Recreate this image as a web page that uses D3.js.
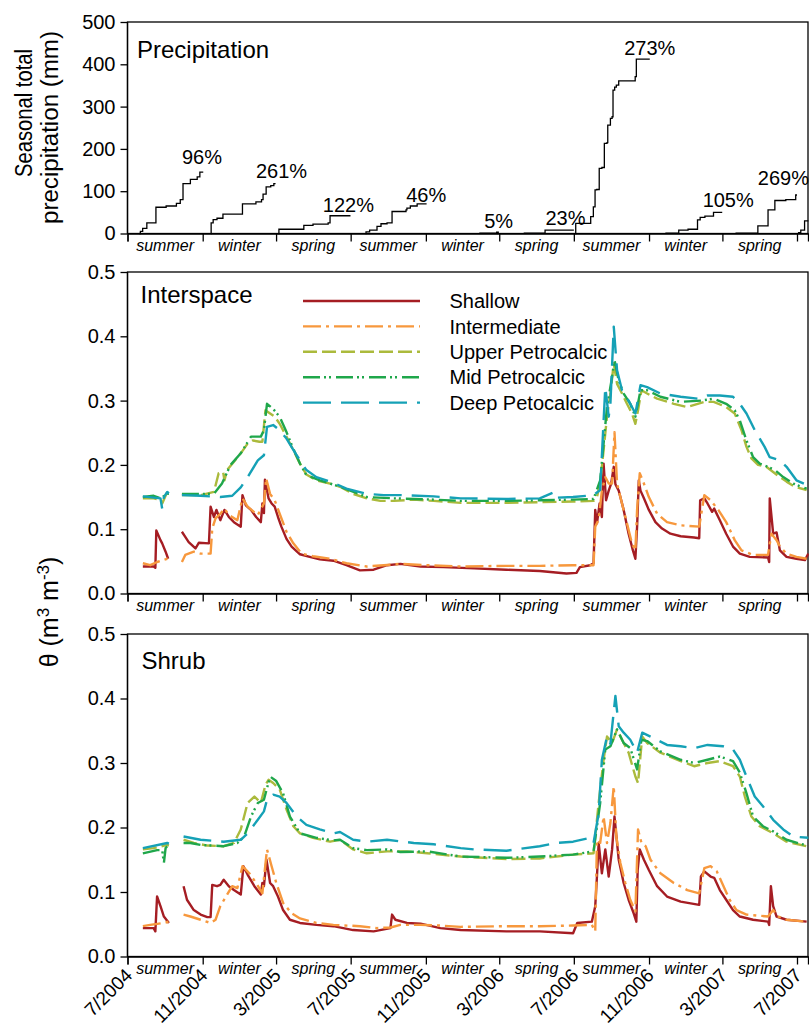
<!DOCTYPE html>
<html><head><meta charset="utf-8">
<script src="https://cdn.jsdelivr.net/npm/d3@7"></script>
<style>body{margin:0;background:#fff} svg{display:block} text{font-family:"Liberation Sans",Arial,Helvetica,sans-serif;fill:#000}</style>
</head><body><svg id="c" width="809" height="1028"></svg>
<script>
// ---------- DATA (x = months since 1 Jul 2004) ----------
const tickLabels = ["7/2004","11/2004","3/2005","7/2005","11/2005","3/2006","7/2006","11/2006","3/2007","7/2007"];
const seasons = ["summer","winter","spring","summer","winter","spring","summer","winter","spring"];
const precipTicks = [0,100,200,300,400,500];
const thetaTicks = [0,0.1,0.2,0.3,0.4,0.5];

// cumulative seasonal precipitation (mm), step curves
const pSummer04 = [[0.62,0],[0.68,5],[0.8,12],[1.02,25],[1.5,62],[2.04,65],[2.6,71],[2.81,80],[2.96,118],[3.35,128],[3.71,134],[3.85,145],[4.03,145]];
const pWinter05 = [[4.45,0],[4.46,25],[4.57,33],[4.78,36],[5.1,46],[6.13,70],[6.84,75],[7.15,80],[7.24,93],[7.42,110],[7.69,113],[7.87,118],[7.97,118]];
const pSpring05 = [[8.12,0],[8.15,10],[9.48,19],[9.98,22],[10.78,25],[10.88,42],[11.99,42]];
const pSummer05 = [[12.78,0],[12.81,4],[13.0,8],[13.39,17],[13.6,23],[13.92,25],[14.19,52],[14.95,56],[15.0,60],[15.18,65],[15.54,70],[16.04,70]];
const pWinter06 = [[18.85,1],[19.85,3],[19.98,3]];
const pSpring06 = [[21.3,1],[22.45,8],[24.0,8]];
const pSummer06 = [[24.09,0],[24.1,24],[24.89,40],[25.03,63],[25.12,103],[25.21,104],[25.34,154],[25.48,156],[25.61,213],[25.75,215],[25.79,256],[25.93,272],[26.02,276],[26.07,339],[26.16,346],[26.25,351],[26.38,361],[27.27,371],[27.33,412],[28.04,412]];
const pWinter07 = [[28.89,1],[29.6,8],[30.09,10],[30.59,32],[30.73,38],[30.98,41],[31.48,50],[31.99,50]];
const pSpring07 = [[32.69,1],[33.9,18],[34.44,56],[34.8,78],[35.39,80],[35.93,91],[36.0,91]];
const pSummer07 = [[36.05,2],[36.2,8],[36.4,30],[36.6,30]];
const precipSeries = [pSummer04,pWinter05,pSpring05,pSummer05,pWinter06,pSpring06,pSummer06,pWinter07,pSpring07,pSummer07];

// percent-of-normal labels: text, position (months, mm)
const pctText  = ["96%","261%","122%","46%","5%","23%","273%","105%","269%"];
const pctMonth = [2.9,6.84,10.5,14.96,19.12,22.47,26.68,30.86,33.9];
const pctMM    = [164,131,51,74,12,20,422,62,115];

// volumetric water content, Interspace
const isShallow = [[0.81,.042],[1.38,.042],[1.47,.040],[1.52,.098],[1.74,.083],[1.83,.078],[2.01,.065],[2.15,.054],null,[2.90,.096],[3.08,.088],[3.26,.080],[3.62,.070],[3.80,.079],[4.34,.078],[4.43,.135],[4.61,.119],[4.75,.130],[4.96,.114],[5.18,.130],[5.41,.119],[5.68,.111],[6.04,.104],[6.13,.153],[6.31,.137],[6.58,.130],[6.85,.119],[7.11,.111],[7.20,.140],[7.29,.125],[7.35,.177],[7.56,.148],[7.74,.140],[7.92,.135],[8.10,.119],[8.28,.104],[8.55,.085],[8.82,.073],[9.27,.061],[9.80,.057],[10.34,.053],[11.06,.051],[11.77,.044],[12.49,.036],[13.21,.037],[13.92,.044],[14.64,.046],[15.72,.042],[16.97,.041],[18.58,.039],[20.38,.037],[22.17,.035],[23.60,.031],[24.14,.032],[24.32,.041],[24.86,.044],[25.04,.047],[25.13,.130],[25.22,.109],[25.36,.140],[25.48,.119],[25.57,.202],[25.70,.145],[25.84,.160],[25.97,.171],[26.11,.197],[26.20,.170],[26.38,.160],[26.65,.130],[26.92,.093],[27.15,.067],[27.28,.054],[27.37,.104],[27.46,.176],[27.55,.160],[27.73,.148],[27.99,.130],[28.35,.111],[28.71,.101],[29.16,.093],[29.70,.089],[30.41,.087],[30.68,.086],[30.73,.145],[30.95,.148],[31.13,.140],[31.40,.127],[31.52,.132],[31.85,.114],[32.20,.093],[32.56,.073],[32.92,.062],[33.46,.057],[34.44,.056],[34.50,.049],[34.53,.148],[34.71,.093],[34.89,.095],[35.07,.067],[35.43,.057],[35.97,.054],[36.42,.052],[36.60,.062]];
const isInter = [[0.81,.047],[1.20,.044],[1.56,.049],[2.10,.054],[2.19,.052],null,[2.90,.049],[3.08,.060],[3.53,.065],[3.89,.062],[4.43,.062],[4.52,.101],[4.70,.117],[4.96,.124],[5.18,.132],[5.41,.122],[5.86,.114],[6.13,.148],[6.40,.135],[6.94,.122],[7.29,.140],[7.42,.179],[7.65,.155],[7.92,.145],[8.19,.124],[8.55,.096],[8.91,.078],[9.36,.062],[9.98,.058],[10.88,.054],[11.77,.047],[12.85,.042],[13.75,.044],[14.64,.046],[16.08,.044],[17.87,.042],[20.38,.043],[22.17,.043],[23.96,.044],[25.04,.044],[25.13,.104],[25.31,.115],[25.48,.160],[25.66,.181],[25.84,.171],[26.02,.171],[26.15,.251],[26.29,.171],[26.56,.140],[26.83,.109],[27.10,.078],[27.28,.067],[27.37,.130],[27.51,.187],[27.73,.171],[27.99,.150],[28.44,.124],[28.98,.111],[29.70,.106],[30.68,.104],[30.95,.153],[31.31,.145],[31.76,.130],[32.20,.111],[32.65,.083],[33.01,.067],[33.64,.060],[34.44,.060],[34.62,.093],[34.89,.083],[35.07,.073],[35.43,.062],[35.97,.057],[36.51,.054]];
const isUpper = [[0.81,.148],[1.38,.148],[1.74,.145],[1.83,.140],[2.10,.158],[2.19,.155],null,[2.90,.153],[3.89,.153],[4.61,.158],[4.87,.187],[5.11,.189],[5.18,.176],[5.32,.192],[5.68,.205],[6.04,.218],[6.40,.233],[6.67,.238],[7.03,.236],[7.20,.236],[7.38,.285],[7.65,.280],[7.92,.275],[8.19,.264],[8.55,.244],[8.91,.223],[9.27,.202],[9.62,.185],[10.16,.176],[10.88,.171],[11.42,.166],[12.13,.155],[12.85,.148],[13.57,.144],[14.28,.144],[15.36,.146],[16.43,.144],[17.87,.141],[20.38,.141],[22.17,.142],[23.96,.143],[25.04,.144],[25.22,.150],[25.39,.171],[25.57,.223],[25.75,.275],[25.93,.311],[26.11,.358],[26.29,.326],[26.56,.311],[26.83,.295],[27.10,.280],[27.28,.264],[27.42,.285],[27.60,.316],[27.90,.311],[28.44,.303],[29.34,.295],[30.05,.290],[30.95,.298],[31.49,.298],[32.20,.290],[32.65,.280],[33.01,.254],[33.28,.228],[33.55,.210],[33.91,.200],[34.35,.197],[34.71,.189],[35.07,.181],[35.43,.174],[35.88,.166],[36.51,.161]];
const isMid = [[0.81,.150],[1.38,.152],[1.74,.148],[2.10,.155],[2.19,.155],null,[2.90,.155],[3.89,.155],[4.61,.155],[5.05,.171],[5.50,.200],[6.04,.218],[6.58,.244],[7.11,.244],[7.29,.254],[7.47,.295],[7.83,.287],[8.19,.275],[8.55,.251],[8.91,.225],[9.27,.202],[9.62,.184],[10.34,.176],[11.42,.166],[12.85,.150],[14.28,.148],[16.43,.146],[17.87,.144],[20.38,.144],[22.17,.145],[23.96,.146],[25.04,.147],[25.39,.176],[25.57,.233],[25.75,.290],[26.02,.337],[26.15,.363],[26.38,.331],[26.65,.311],[27.01,.295],[27.28,.275],[27.55,.316],[27.90,.316],[28.62,.306],[29.70,.298],[30.77,.300],[31.49,.303],[32.20,.295],[32.65,.285],[32.92,.269],[33.28,.238],[33.64,.212],[34.00,.202],[34.44,.197],[34.80,.192],[35.25,.181],[35.79,.171],[36.51,.163]];
const isDeep = [[0.81,.151],[1.74,.148],[1.83,.132],[1.92,.150],[2.10,.158],[2.19,.156],null,[2.90,.153],[3.89,.152],[4.96,.150],[5.59,.152],[6.04,.165],[6.40,.181],[6.94,.207],[7.29,.215],[7.47,.259],[7.83,.262],[8.19,.254],[8.55,.241],[9.09,.215],[9.62,.192],[10.16,.181],[10.88,.174],[11.77,.163],[12.85,.155],[13.75,.153],[14.64,.153],[16.43,.151],[17.87,.148],[20.38,.147],[22.17,.148],[22.97,.158],[23.06,.149],[23.96,.150],[25.04,.153],[25.39,.161],[25.66,.321],[25.84,.275],[25.93,.295],[26.11,.415],[26.29,.347],[26.56,.316],[26.92,.300],[27.28,.280],[27.55,.324],[27.90,.321],[28.62,.311],[29.70,.306],[30.59,.303],[31.13,.308],[31.85,.308],[32.56,.306],[32.92,.295],[33.28,.280],[33.73,.254],[34.26,.228],[34.53,.212],[35.07,.207],[35.43,.197],[35.97,.176],[36.60,.168]];

// volumetric water content, Shrub
const shShallow = [[0.81,.044],[1.38,.044],[1.47,.039],[1.56,.093],[1.74,.078],[1.92,.062],[2.19,.052],null,[2.99,.109],[3.17,.088],[3.53,.072],[3.89,.065],[4.25,.061],[4.43,.061],[4.52,.111],[4.78,.109],[4.96,.111],[5.14,.119],[5.41,.109],[5.68,.103],[6.04,.096],[6.18,.140],[6.40,.127],[6.76,.109],[7.11,.096],[7.20,.114],[7.29,.109],[7.44,.150],[7.65,.114],[7.83,.109],[8.10,.093],[8.37,.072],[8.73,.057],[9.27,.052],[10.16,.049],[11.06,.047],[12.13,.041],[13.21,.039],[14.10,.044],[14.19,.065],[14.37,.057],[15.00,.052],[15.72,.051],[16.79,.044],[17.87,.041],[20.38,.039],[22.17,.039],[23.96,.036],[24.18,.052],[24.95,.054],[25.13,.078],[25.22,.124],[25.31,.176],[25.48,.129],[25.66,.166],[25.84,.124],[26.02,.166],[26.15,.217],[26.38,.150],[26.65,.114],[26.92,.088],[27.19,.067],[27.33,.054],[27.40,.134],[27.51,.166],[27.73,.150],[27.99,.134],[28.44,.109],[28.98,.093],[29.70,.085],[30.68,.080],[30.77,.124],[30.95,.132],[31.31,.124],[31.52,.122],[31.85,.103],[32.20,.088],[32.56,.072],[32.92,.062],[33.64,.057],[34.44,.054],[34.50,.049],[34.59,.109],[34.71,.078],[34.89,.062],[35.43,.057],[36.51,.054]];
const shInter = [[0.81,.047],[1.20,.049],[1.92,.052],[2.19,.054],null,[2.99,.065],[3.35,.062],[3.89,.057],[4.43,.052],[4.70,.057],[4.96,.078],[5.32,.096],[5.59,.109],[5.86,.106],[6.13,.140],[6.49,.129],[6.85,.114],[7.20,.098],[7.47,.166],[7.74,.140],[8.01,.114],[8.37,.083],[8.82,.067],[9.27,.059],[10.16,.052],[11.06,.049],[12.49,.047],[13.39,.044],[14.10,.045],[14.64,.049],[15.72,.049],[16.79,.048],[17.87,.046],[20.38,.047],[22.17,.047],[23.96,.048],[24.95,.049],[25.13,.039],[25.22,.181],[25.39,.176],[25.57,.217],[25.75,.176],[25.93,.207],[26.11,.264],[26.25,.186],[26.47,.145],[26.74,.114],[27.01,.088],[27.28,.070],[27.42,.197],[27.60,.176],[27.82,.171],[28.08,.150],[28.62,.129],[29.34,.114],[30.05,.103],[30.68,.098],[30.95,.137],[31.31,.140],[31.67,.132],[32.03,.111],[32.38,.088],[32.74,.072],[33.28,.065],[34.44,.062],[34.71,.072],[34.98,.062],[35.43,.057],[36.51,.054]];
const shUpper = [[0.81,.166],[1.38,.168],[2.10,.173],[2.19,.172],null,[2.99,.181],[3.53,.176],[4.25,.172],[5.14,.171],[5.68,.176],[6.04,.197],[6.40,.238],[6.76,.248],[7.11,.238],[7.38,.266],[7.56,.274],[7.83,.269],[8.19,.259],[8.55,.228],[8.91,.202],[9.27,.191],[9.98,.184],[10.88,.178],[11.42,.181],[12.13,.166],[12.85,.160],[13.92,.163],[15.00,.163],[16.08,.160],[17.87,.155],[20.38,.151],[22.17,.152],[23.96,.158],[25.04,.160],[25.31,.238],[25.57,.305],[25.75,.341],[26.02,.331],[26.29,.352],[26.56,.336],[26.92,.316],[27.28,.279],[27.42,.269],[27.64,.341],[27.90,.331],[28.62,.316],[29.70,.303],[30.41,.295],[31.13,.300],[31.85,.303],[32.56,.295],[32.92,.279],[33.19,.248],[33.55,.217],[34.00,.202],[34.71,.191],[35.43,.178],[36.51,.171]];
const shMid = [[0.81,.160],[1.56,.165],[1.83,.165],[1.92,.145],[2.01,.168],[2.10,.171],[2.19,.170],null,[2.99,.176],[3.35,.176],[3.89,.173],[5.14,.171],[5.86,.176],[6.22,.186],[6.58,.217],[6.94,.238],[7.29,.243],[7.65,.279],[8.01,.272],[8.37,.253],[8.73,.217],[9.27,.191],[10.16,.184],[11.06,.180],[11.42,.181],[12.13,.168],[12.85,.165],[13.92,.166],[14.64,.162],[16.08,.163],[17.87,.155],[20.38,.153],[22.17,.155],[23.96,.158],[25.04,.163],[25.39,.238],[25.66,.321],[25.93,.326],[26.29,.352],[26.65,.331],[27.01,.323],[27.37,.290],[27.60,.336],[27.90,.334],[28.62,.318],[29.70,.305],[30.41,.300],[31.13,.305],[31.85,.310],[32.56,.303],[32.92,.285],[33.28,.253],[33.64,.217],[34.17,.202],[34.71,.194],[35.43,.181],[36.51,.172]];
const shDeep = [[0.81,.168],[2.10,.176],[2.19,.175],null,[2.99,.186],[3.89,.181],[5.14,.178],[6.04,.181],[6.40,.191],[6.94,.212],[7.29,.225],[7.47,.243],[7.83,.251],[8.19,.248],[8.55,.238],[9.09,.217],[9.62,.204],[10.34,.197],[11.06,.191],[11.42,.193],[12.13,.181],[12.85,.178],[13.92,.181],[15.36,.176],[16.43,.174],[17.87,.168],[18.58,.166],[20.38,.164],[22.17,.171],[23.06,.176],[23.96,.178],[24.86,.184],[25.04,.176],[25.31,.222],[25.48,.305],[25.75,.341],[25.93,.330],[26.20,.404],[26.38,.357],[26.65,.347],[27.01,.336],[27.37,.316],[27.64,.347],[28.08,.341],[28.98,.328],[29.70,.326],[30.41,.323],[31.13,.328],[32.03,.326],[32.56,.321],[32.92,.305],[33.28,.279],[33.73,.248],[34.17,.233],[34.71,.212],[35.25,.197],[35.79,.186],[36.60,.184]];

const depthNames = ["Shallow","Intermediate","Upper Petrocalcic","Mid Petrocalcic","Deep Petocalcic"];
const depthColors = ["#a51d23","#f7983d","#abba3c","#1fa74b","#15a1b6"];
const depthDash = [null,"18,5,3,5","14,5","17,4,2,3,2,5","28,10"];
const interspace = [isShallow,isInter,isUpper,isMid,isDeep];
const shrub = [shShallow,shInter,shUpper,shMid,shDeep];

// ---------- CHART ----------
const svg = d3.select("#c");
function mo(m){ const w=Math.floor(m); const a=new Date(2004,6+w,1), b=new Date(2004,7+w,1); return new Date(+a+(m-w)*(b-a)); }
function parseTick(s){ const [mm,yy]=s.split("/").map(Number); return new Date(yy,mm-1,1); }
const tickDates = tickLabels.map(parseTick);

const x = d3.scaleTime().domain([new Date(2004,6,1), new Date(2007,6,19)]).range([127.5, 808]);
const yP = d3.scaleLinear().domain([0,500]).range([233.5,22]);
const yI = d3.scaleLinear().domain([0,0.5]).range([593.5,272]);
const yS = d3.scaleLinear().domain([0,0.5]).range([956.5,634]);

function frame(y, fmt, ticks, dateLabels){
  const [y0,y1] = y.range();
  svg.append("rect").attr("x",x.range()[0]).attr("y",y1).attr("width",x.range()[1]-x.range()[0]).attr("height",y0-y1)
    .attr("fill","none").attr("stroke","#000").attr("stroke-width",1.3);
  const ga = svg.append("g").attr("transform",`translate(${x.range()[0]},0)`)
    .call(d3.axisLeft(y).tickValues(ticks).tickFormat(fmt).tickSize(7).tickPadding(5));
  const gb = svg.append("g").attr("transform",`translate(0,${y0})`)
    .call(d3.axisBottom(x).tickValues(tickDates).tickFormat("").tickSize(8));
  [ga,gb].forEach(g=>{ g.selectAll("path,line").attr("stroke","#000").attr("stroke-width",1.3);
    g.selectAll("text").style("font-size","20px").attr("fill","#000"); });
  ga.select(".domain").attr("d",`M0,${y0}V${y1}`);
  // season labels
  svg.append("g").selectAll("text").data(seasons).join("text")
    .attr("x",(d,i)=>(x(tickDates[i])+x(tickDates[i+1]))/2).attr("y",y0+17)
    .attr("text-anchor","middle").style("font-size","16px").style("font-style","italic").text(d=>d);
  if(dateLabels){
    svg.append("g").selectAll("text").data(tickDates).join("text")
      .attr("transform",d=>`translate(${x(d)+6},${y0+20}) rotate(-45)`)
      .attr("text-anchor","end").style("font-size","19px")
      .text((d,i)=>tickLabels[i]);
  }
}

frame(yP, d3.format("d"), precipTicks, false);
frame(yI, d3.format(".1f"), thetaTicks, false);
frame(yS, d3.format(".1f"), thetaTicks, true);

// precipitation step curves
const lineP = d3.line().x(d=>x(mo(d[0]))).y(d=>yP(d[1])).curve(d3.curveStepAfter);
svg.append("g").selectAll("path").data(precipSeries).join("path")
  .attr("d",lineP).attr("fill","none").attr("stroke","#000").attr("stroke-width",1.3);
svg.append("g").selectAll("text").data(pctText).join("text")
  .attr("x",(d,i)=>x(mo(pctMonth[i]))).attr("y",(d,i)=>yP(pctMM[i]))
  .style("font-size","20px").text(d=>d);

// soil moisture
function drawSeries(data, y){
  const ln = d3.line().defined(d=>d!==null).x(d=>x(mo(d[0]))).y(d=>y(d[1]));
  svg.append("g").selectAll("path").data(data).join("path")
    .attr("d",ln).attr("fill","none").attr("stroke",(d,i)=>depthColors[i])
    .attr("stroke-width",2.4).attr("stroke-dasharray",(d,i)=>depthDash[i]).attr("stroke-linejoin","round");
}
drawSeries(interspace, yI);
drawSeries(shrub, yS);

// panel titles
svg.append("text").attr("x",137).attr("y",58).style("font-size","24px").text("Precipitation");
svg.append("text").attr("x",140.5).attr("y",302.5).style("font-size","24px").text("Interspace");
svg.append("text").attr("x",141.5).attr("y",669).style("font-size","24px").text("Shrub");

// legend
const lg = svg.append("g").attr("transform","translate(303,301)");
depthNames.forEach((n,i)=>{
  lg.append("line").attr("x1",0).attr("x2",117).attr("y1",i*25.4).attr("y2",i*25.4)
    .attr("stroke",depthColors[i]).attr("stroke-width",2.4).attr("stroke-dasharray",depthDash[i]);
  lg.append("text").attr("x",146.5).attr("y",i*25.4).attr("dy","0.36em").style("font-size","20px").text(n);
});

// axis titles
svg.append("text").attr("transform","translate(31.5,113) rotate(-90)").attr("text-anchor","middle")
  .attr("textLength",128).attr("lengthAdjust","spacingAndGlyphs").style("font-size","23px").text("Seasonal total");
svg.append("text").attr("transform","translate(58,127.5) rotate(-90)").attr("text-anchor","middle")
  .attr("textLength",193).attr("lengthAdjust","spacingAndGlyphs").style("font-size","23px").text("precipitation (mm)");
const th = svg.append("text").attr("transform","translate(57.5,612) rotate(-90)").attr("text-anchor","middle").style("font-size","25px");
th.append("tspan").text("\u03b8 (m");
th.append("tspan").attr("baseline-shift","super").style("font-size","17px").text("3");
th.append("tspan").text(" m");
th.append("tspan").attr("baseline-shift","super").style("font-size","17px").text("-3");
th.append("tspan").text(")");
</script></body></html>
